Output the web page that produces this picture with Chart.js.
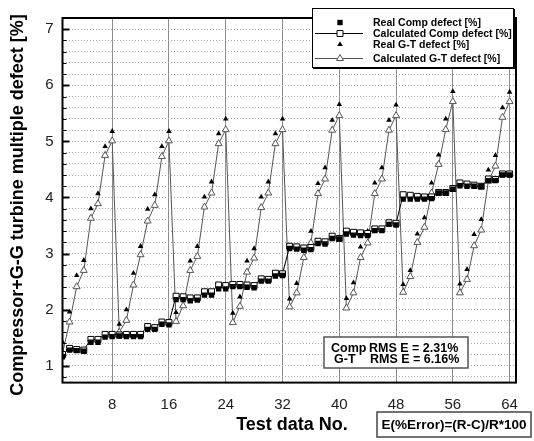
<!DOCTYPE html>
<html>
<head>
<meta charset="utf-8">
<script src="https://cdn.jsdelivr.net/npm/chart.js@4.4.1/dist/chart.umd.min.js"></script>
<style>
  html, body { margin: 0; padding: 0; background: #fff; }
  #wrap { width: 534px; height: 441px; }
</style>
</head>
<body>
<div id="wrap"><canvas id="defectChart" width="534" height="441"></canvas></div>
<script>
// test numbers and measured / calculated defects [%]
const testNo = [
   1,  2,  3,  4,  5,  6,  7,  8,  9, 10, 11, 12, 13, 14, 15, 16,
  17, 18, 19, 20, 21, 22, 23, 24, 25, 26, 27, 28, 29, 30, 31, 32,
  33, 34, 35, 36, 37, 38, 39, 40, 41, 42, 43, 44, 45, 46, 47, 48,
  49, 50, 51, 52, 53, 54, 55, 56, 57, 58, 59, 60, 61, 62, 63, 64
];
const realComp = [
  1.16, 1.28, 1.27, 1.26, 1.42, 1.42, 1.51, 1.52,
  1.53, 1.52, 1.52, 1.52, 1.65, 1.65, 1.74, 1.73,
  2.18, 2.18, 2.16, 2.17, 2.26, 2.26, 2.37, 2.37,
  2.41, 2.41, 2.40, 2.39, 2.51, 2.51, 2.60, 2.61,
  3.09, 3.08, 3.06, 3.07, 3.18, 3.17, 3.27, 3.26,
  3.35, 3.33, 3.32, 3.32, 3.41, 3.41, 3.52, 3.51,
  3.97, 3.97, 3.97, 3.97, 3.98, 4.08, 4.08, 4.15,
  4.21, 4.20, 4.20, 4.20, 4.30, 4.30, 4.40, 4.40
];
const calcComp = [
  1.20, 1.31, 1.29, 1.28, 1.47, 1.47, 1.56, 1.56,
  1.55, 1.56, 1.56, 1.56, 1.70, 1.68, 1.78, 1.77,
  2.24, 2.23, 2.21, 2.21, 2.32, 2.32, 2.44, 2.43,
  2.45, 2.45, 2.44, 2.43, 2.55, 2.54, 2.65, 2.64,
  3.13, 3.12, 3.10, 3.11, 3.22, 3.21, 3.31, 3.27,
  3.40, 3.38, 3.37, 3.36, 3.44, 3.44, 3.55, 3.54,
  4.05, 4.04, 4.02, 4.01, 4.01, 4.09, 4.09, 4.16,
  4.26, 4.24, 4.22, 4.20, 4.33, 4.32, 4.42, 4.42
];
const realGT = [
  1.42, 1.96, 2.61, 2.88, 3.80, 4.07, 4.91, 5.18,
  1.74, 2.00, 2.65, 3.13, 3.79, 4.05, 4.91, 5.18,
  1.95, 2.20, 2.87, 3.13, 4.01, 4.28, 5.14, 5.40,
  1.94, 2.23, 2.87, 3.09, 4.01, 4.28, 5.14, 5.40,
  2.19, 2.47, 3.11, 3.40, 4.25, 4.53, 5.38, 5.66,
  2.20, 2.48, 3.12, 3.40, 4.26, 4.53, 5.38, 5.65,
  2.45, 2.70, 3.35, 3.64, 4.26, 4.76, 5.40, 5.89,
  2.46, 2.72, 3.34, 3.61, 4.49, 4.75, 5.60, 5.88
];
const calcGT = [
  1.22, 1.78, 2.41, 2.70, 3.63, 3.89, 4.75, 5.01,
  1.60, 1.81, 2.44, 2.98, 3.58, 3.86, 4.73, 5.01,
  1.79, 2.07, 2.70, 2.95, 3.83, 4.08, 4.96, 5.21,
  1.77, 2.06, 2.67, 2.92, 3.82, 4.08, 4.96, 5.21,
  2.05, 2.30, 2.93, 3.19, 4.07, 4.33, 5.20, 5.46,
  2.03, 2.30, 2.93, 3.19, 4.07, 4.33, 5.20, 5.46,
  2.31, 2.59, 3.20, 3.47, 4.08, 4.59, 5.21, 5.71,
  2.30, 2.54, 3.14, 3.42, 4.29, 4.56, 5.43, 5.71
];

const xTicks = [8, 16, 24, 32, 40, 48, 56, 64];
const yMajor = [1, 2, 3, 4, 5, 6, 7];
const seriesNames = [
  'Real Comp defect [%]',
  'Calculated Comp defect [%]',
  'Real G-T defect [%]',
  'Calculated G-T defect [%]'
];
const rmsLines = [['Comp', 'RMS E = 2.31%'], ['G-T', 'RMS E = 6.16%']];
const errorNote = 'E(%Error)=(R-C)/R*100';
const xTitle = 'Test data No.';
const yTitle = 'Compressor+G-G turbine multiple defect [%]';

const FONT = '"Liberation Sans", Arial, Helvetica, sans-serif';

const toPoints = ys => ys.map((y, i) => ({ x: testNo[i], y: y }));

// y gridlines every 0.2, labels only on whole numbers
function yGridTicks(scale) {
  const out = [];
  for (let k = 4; k <= 36; k++) out.push({ value: Math.round(k * 20) / 100 });
  scale.ticks = out;
}

function drawMarker(ctx, style, x, y, r, fill, stroke, lw) {
  ctx.save();
  ctx.beginPath();
  if (style === 'rect') {
    const s = r * Math.SQRT1_2;
    ctx.rect(x - s, y - s, 2 * s, 2 * s);
  } else {
    for (let i = 0; i < 3; i++) {
      const a = i * 2 * Math.PI / 3;
      const px = x + Math.sin(a) * r, py = y - Math.cos(a) * r;
      if (i === 0) ctx.moveTo(px, py); else ctx.lineTo(px, py);
    }
    ctx.closePath();
  }
  ctx.fillStyle = fill;
  ctx.fill();
  if (lw) { ctx.lineWidth = lw; ctx.strokeStyle = stroke; ctx.stroke(); }
  ctx.restore();
}

const decorations = {
  id: 'decorations',
  beforeDraw(chart) {
    const ctx = chart.ctx;
    ctx.save();
    ctx.fillStyle = '#fff';
    ctx.fillRect(0, 0, chart.width, chart.height);
    ctx.restore();
  },
  afterDraw(chart) {
    const ctx = chart.ctx;
    const a = chart.chartArea;
    const ys = chart.scales.y;
    const ds = chart.data.datasets;

    // inner tick marks on the left axis
    ctx.save();
    ctx.strokeStyle = '#000';
    ys.ticks.forEach(t => {
      const py = Math.round(ys.getPixelForValue(t.value)) + 0.5;
      const major = yMajor.indexOf(Math.round(t.value * 100) / 100) >= 0;
      ctx.lineWidth = major ? 2 : 1;
      ctx.beginPath();
      ctx.moveTo(a.left, py);
      ctx.lineTo(a.left + (major ? 7 : 4), py);
      ctx.stroke();
    });
    ctx.restore();

    // plot frame
    ctx.save();
    ctx.lineWidth = 2;
    ctx.strokeStyle = '#000';
    ctx.strokeRect(a.left, a.top, a.right - a.left, a.bottom - a.top);
    ctx.restore();

    // legend box
    const lx = 312, ly = 8, lw = 201, lh = 59;
    ctx.save();
    ctx.fillStyle = '#fff';
    ctx.fillRect(lx, ly, lw, lh);
    ctx.lineWidth = 1;
    ctx.strokeStyle = '#000';
    ctx.strokeRect(lx + 0.5, ly + 0.5, lw, lh);
    ctx.fillStyle = '#000';
    ctx.fillRect(lx + lw, ly + 1, 2, lh + 1);
    ctx.fillRect(lx + 1, ly + lh, lw + 1, 2);
    const rows = [22.5, 33.5, 44.5, 58.5];
    ctx.font = 'bold 10.5px ' + FONT;
    ctx.textBaseline = 'middle';
    ctx.textAlign = 'left';
    rows.forEach((ry, i) => {
      const d = ds[i];
      if (d.showLine !== false) {
        ctx.beginPath();
        ctx.lineWidth = d.borderWidth;
        ctx.strokeStyle = d.borderColor;
        ctx.moveTo(315, ry);
        ctx.lineTo(363, ry);
        ctx.stroke();
      }
      drawMarker(ctx, d.pointStyle, 340, ry, d.pointRadius,
        d.pointBackgroundColor, d.pointBorderColor, d.pointBorderWidth);
      ctx.fillStyle = '#000';
      ctx.fillText(seriesNames[i], 373, ry + 0.5);
    });
    ctx.restore();

    // RMS error box
    ctx.save();
    ctx.fillStyle = '#fff';
    ctx.fillRect(324, 337, 144, 31);
    ctx.lineWidth = 1.5;
    ctx.strokeStyle = '#555';
    ctx.strokeRect(324, 337, 144, 31);
    ctx.fillStyle = '#000';
    ctx.font = 'bold 12.5px ' + FONT;
    ctx.textBaseline = 'middle';
    ctx.fillText(rmsLines[0][0], 331, 348.5);
    ctx.fillText(rmsLines[0][1], 369, 348.5);
    ctx.fillText(rmsLines[1][0], 334, 360);
    ctx.fillText(rmsLines[1][1], 370, 360);
    ctx.restore();

    // error definition box
    ctx.save();
    ctx.fillStyle = '#fff';
    ctx.fillRect(377, 412, 154, 25);
    ctx.lineWidth = 1.5;
    ctx.strokeStyle = '#444';
    ctx.strokeRect(377, 412, 154, 25);
    ctx.fillStyle = '#000';
    ctx.font = 'bold 13.5px ' + FONT;
    ctx.textBaseline = 'middle';
    ctx.textAlign = 'center';
    ctx.fillText(errorNote, 454, 425);
    ctx.restore();

    // axis titles
    ctx.save();
    ctx.fillStyle = '#000';
    ctx.font = 'bold 18px ' + FONT;
    ctx.textAlign = 'center';
    ctx.textBaseline = 'middle';
    ctx.fillText(xTitle, 292, 425);
    ctx.translate(18, 205);
    ctx.rotate(-Math.PI / 2);
    ctx.fillText(yTitle, 0, 0);
    ctx.restore();
  }
};

new Chart(document.getElementById('defectChart').getContext('2d'), {
  type: 'line',
  data: {
    datasets: [
      {
        label: seriesNames[0],
        data: toPoints(realComp),
        showLine: false,
        pointStyle: 'rect',
        pointRadius: 3.8,
        pointBackgroundColor: '#000',
        pointBorderColor: '#000',
        pointBorderWidth: 0,
        borderColor: '#000',
        borderWidth: 0,
        order: 0
      },
      {
        label: seriesNames[1],
        data: toPoints(calcComp),
        pointStyle: 'rect',
        pointRadius: 4.2,
        pointBackgroundColor: '#fff',
        pointBorderColor: '#000',
        pointBorderWidth: 1,
        borderColor: '#000',
        borderWidth: 1,
        tension: 0,
        order: 1
      },
      {
        label: seriesNames[2],
        data: toPoints(realGT),
        showLine: false,
        pointStyle: 'triangle',
        pointRadius: 3.2,
        pointBackgroundColor: '#000',
        pointBorderColor: '#000',
        pointBorderWidth: 0,
        borderColor: '#000',
        borderWidth: 0,
        order: 2
      },
      {
        label: seriesNames[3],
        data: toPoints(calcGT),
        pointStyle: 'triangle',
        pointRadius: 4,
        pointBackgroundColor: '#fff',
        pointBorderColor: '#555',
        pointBorderWidth: 1,
        borderColor: '#555',
        borderWidth: 1,
        tension: 0,
        order: 3
      }
    ]
  },
  options: {
    responsive: false,
    animation: false,
    devicePixelRatio: 1,
    events: [],
    layout: { padding: { top: 7, right: 18, left: 0, bottom: 0 } },
    plugins: {
      legend: { display: false },
      tooltip: { enabled: false }
    },
    scales: {
      x: {
        type: 'linear',
        min: 1,
        max: 64.9,
        afterBuildTicks: s => { s.ticks = xTicks.map(v => ({ value: v })); },
        afterFit: s => { s.height = 58.4; },
        grid: { color: '#8c8c8c', lineWidth: 1, drawTicks: false },
        border: { display: false },
        ticks: {
          padding: 13,
          autoSkip: false,
          maxRotation: 0,
          color: '#222',
          font: { family: FONT, size: 15 }
        }
      },
      y: {
        type: 'linear',
        min: 0.7,
        max: 7.2,
        afterBuildTicks: yGridTicks,
        afterFit: s => { s.width = 62.5; },
        grid: { color: '#a8a8a8', lineWidth: 1, drawTicks: false },
        border: { display: false, dash: [1, 2] },
        ticks: {
          padding: 9,
          autoSkip: false,
          color: '#222',
          font: { family: FONT, size: 15 },
          callback: v => (Math.abs(v - Math.round(v)) < 1e-6 ? String(Math.round(v)) : '')
        }
      }
    }
  },
  plugins: [decorations]
});
</script>
</body>
</html>
